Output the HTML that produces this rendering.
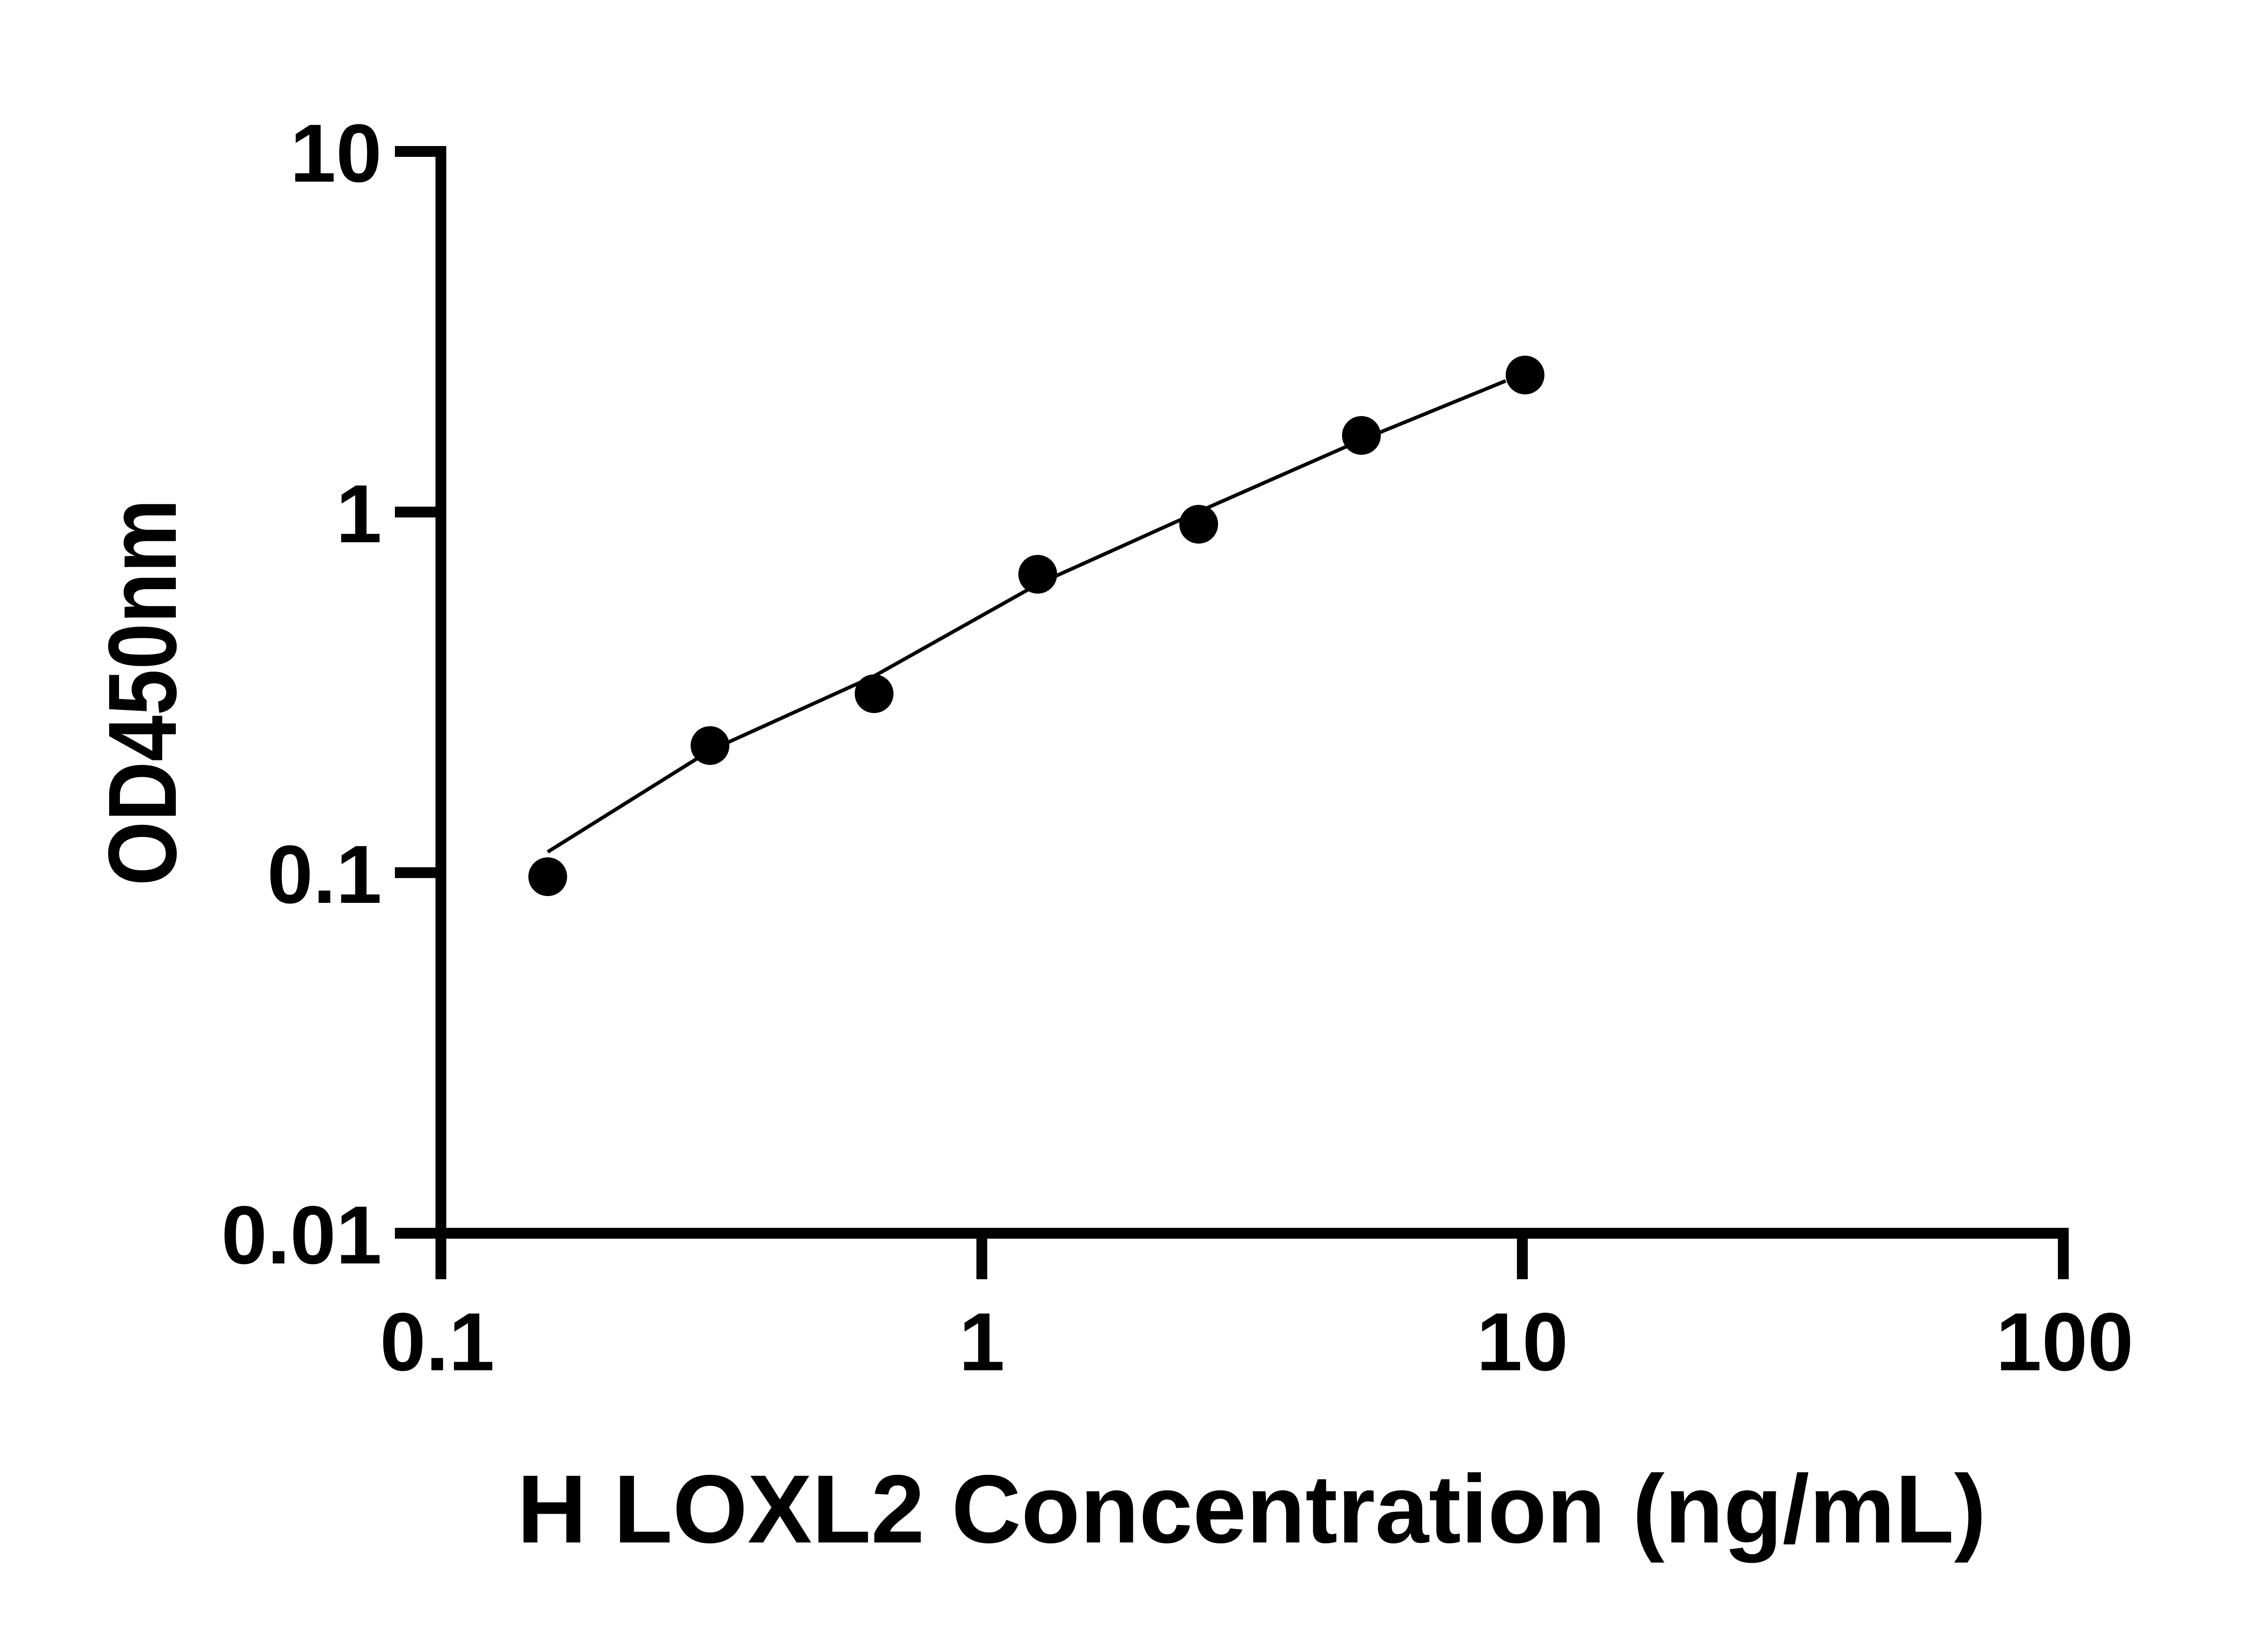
<!DOCTYPE html>
<html><head><meta charset="utf-8"><style>html,body{margin:0;padding:0;background:#fff}</style></head>
<body>
<svg width="5130" height="3660" viewBox="0 0 5130 3660" xmlns="http://www.w3.org/2000/svg">
<rect width="5130" height="3660" fill="#fff"/>
<g stroke="#000" stroke-width="24" fill="none">
<line x1="978" y1="324" x2="978" y2="2838"/>
<line x1="966" y1="2736" x2="4589" y2="2736"/>
<line x1="876" y1="336" x2="978" y2="336"/>
<line x1="876" y1="1136" x2="978" y2="1136"/>
<line x1="876" y1="1936" x2="978" y2="1936"/>
<line x1="876" y1="2736" x2="978" y2="2736"/>
<line x1="2178" y1="2736" x2="2178" y2="2838"/>
<line x1="3377" y1="2736" x2="3377" y2="2838"/>
<line x1="4577" y1="2724" x2="4577" y2="2838"/>
</g>
<g font-family="Liberation Sans, Arial, sans-serif" font-weight="bold" font-size="183" fill="#000">
<text x="847" y="403" text-anchor="end">10</text>
<text x="847" y="1203" text-anchor="end">1</text>
<text x="847" y="2003" text-anchor="end">0.1</text>
<text x="847" y="2803" text-anchor="end">0.01</text>
<text x="970" y="3040" text-anchor="middle">0.1</text>
<text x="2178" y="3040" text-anchor="middle">1</text>
<text x="3377" y="3040" text-anchor="middle">10</text>
<text x="4580" y="3040" text-anchor="middle">100</text>
</g>
<polyline points="1215,1890 1575,1665 1939,1500 2302,1296 2659,1135 3020,976 3340,845" stroke="#000" stroke-width="8" fill="none"/>
<g fill="#000">
<circle cx="1215" cy="1945" r="43"/>
<circle cx="1575" cy="1654" r="43"/>
<circle cx="1939" cy="1539" r="43"/>
<circle cx="2302" cy="1274" r="43"/>
<circle cx="2659" cy="1163" r="43"/>
<circle cx="3020" cy="966" r="43"/>
<circle cx="3383" cy="832" r="43"/>
</g>
<g font-family="Liberation Sans, Arial, sans-serif" font-weight="bold" font-size="215" fill="#000">
<text x="1147" y="3422" textLength="3259" lengthAdjust="spacingAndGlyphs">H LOXL2 Concentration (ng/mL)</text>
<text transform="translate(390,1965) rotate(-90)" textLength="858" lengthAdjust="spacingAndGlyphs">OD450nm</text>
</g>
</svg>
</body></html>
